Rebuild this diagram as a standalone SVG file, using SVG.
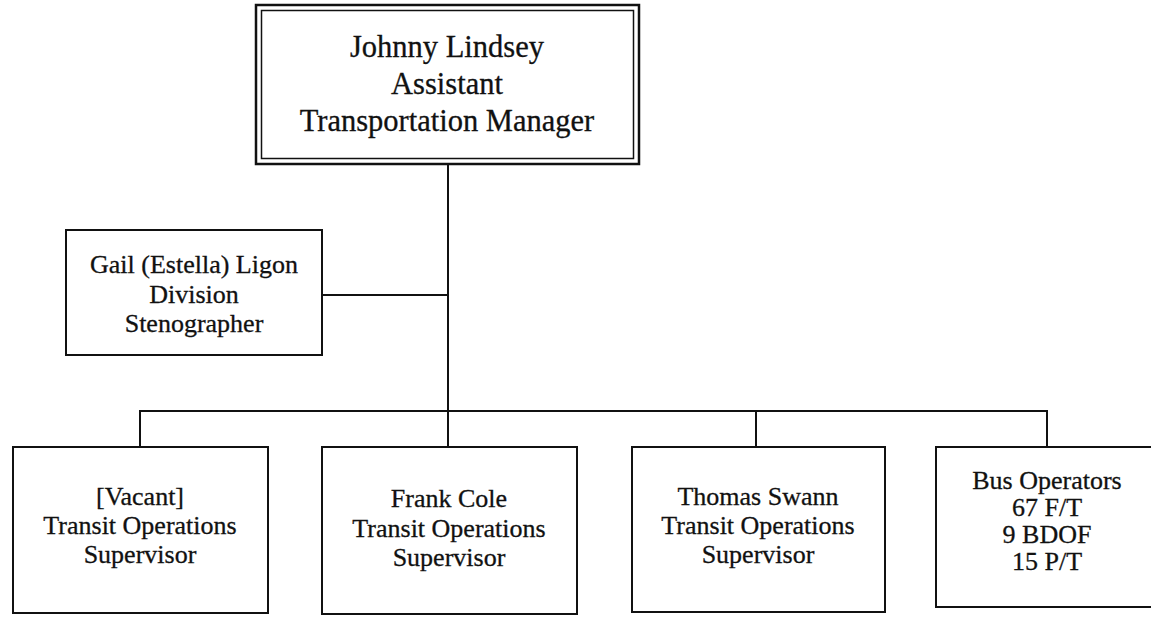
<svg xmlns="http://www.w3.org/2000/svg" width="1151" height="617" viewBox="0 0 1151 617">
<style>
.box{fill:#fff;stroke:#111;stroke-width:2}
.t{font-family:"Liberation Serif",serif;font-size:26px;fill:#111;stroke:#111;stroke-width:0.3;text-anchor:middle}
.big{font-size:30.5px}
.c{stroke:#111;stroke-width:2;fill:none}
</style>
<rect width="1151" height="617" fill="#fff"/>
<g id="connectors">
<path class="c" d="M448 164V447"/>
<path class="c" d="M322 295H448"/>
<path class="c" d="M140 447V411H1047V447"/>
<path class="c" d="M756 411V447"/>
</g>
<g id="manager">
<rect x="256" y="5" width="383" height="159" fill="#fff" stroke="#111" stroke-width="2.5"/>
<rect x="261.5" y="10.5" width="372" height="148" fill="none" stroke="#111" stroke-width="1.5"/>
<text class="t big" x="447" y="57">Johnny Lindsey</text>
<text class="t big" x="447" y="94">Assistant</text>
<text class="t big" x="447" y="131">Transportation Manager</text>
</g>
<g id="stenographer">
<rect class="box" x="66" y="230" width="256" height="125"/>
<text class="t" x="194" y="273">Gail (Estella) Ligon</text>
<text class="t" x="194" y="303">Division</text>
<text class="t" x="194" y="332">Stenographer</text>
</g>
<g id="vacant">
<rect class="box" x="13" y="447" width="255" height="166"/>
<text class="t" x="140" y="505">[Vacant]</text>
<text class="t" x="140" y="534">Transit Operations</text>
<text class="t" x="140" y="563">Supervisor</text>
</g>
<g id="frank">
<rect class="box" x="322" y="447" width="255" height="167"/>
<text class="t" x="449" y="507">Frank Cole</text>
<text class="t" x="449" y="537">Transit Operations</text>
<text class="t" x="449" y="566">Supervisor</text>
</g>
<g id="thomas">
<rect class="box" x="632" y="447" width="253" height="165"/>
<text class="t" x="758" y="505">Thomas Swann</text>
<text class="t" x="758" y="534">Transit Operations</text>
<text class="t" x="758" y="563">Supervisor</text>
</g>
<g id="bus">
<rect class="box" x="936" y="447" width="224" height="160"/>
<text class="t" x="1047" y="489">Bus Operators</text>
<text class="t" x="1047" y="516">67 F/T</text>
<text class="t" x="1047" y="543">9 BDOF</text>
<text class="t" x="1047" y="570">15 P/T</text>
</g>
</svg>
